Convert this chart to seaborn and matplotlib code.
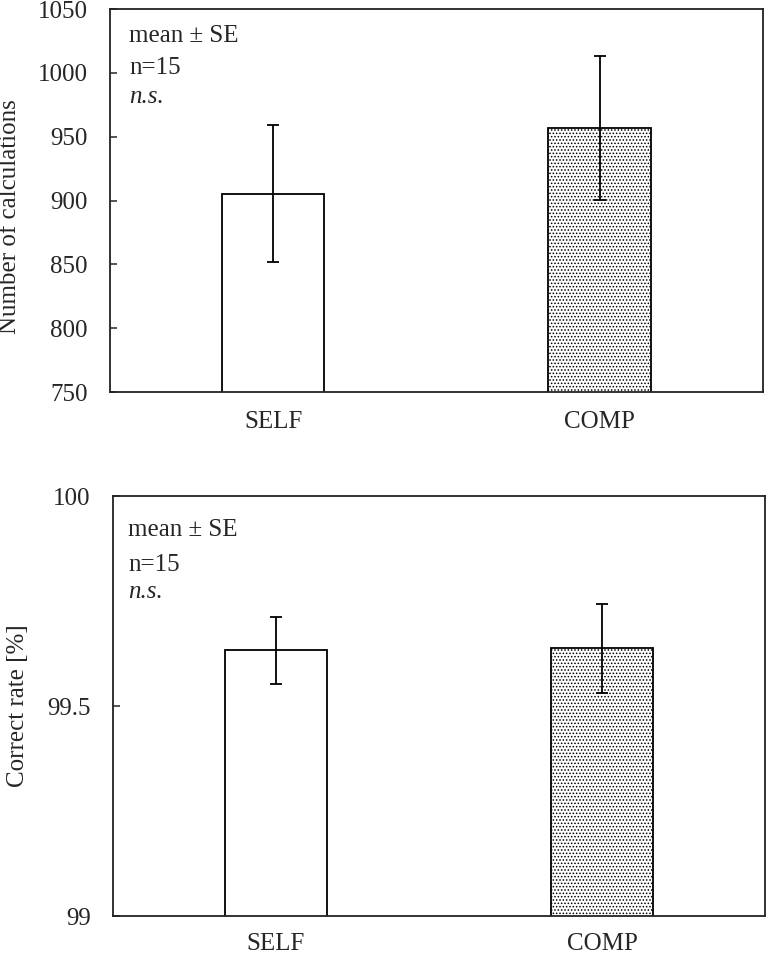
import matplotlib
matplotlib.use("Agg")
import matplotlib.pyplot as plt
import seaborn as sns
import pandas as pd
from matplotlib.ticker import FixedLocator, FixedFormatter

sns.set_theme(style="white")
plt.rcParams['font.family'] = ['Liberation Serif', 'DejaVu Serif']
plt.rcParams['hatch.linewidth'] = 0.7

categories = ["SELF", "COMP"]
calc_mean = [905.5, 957.0]
calc_se = [54.0, 56.6]
rate_mean = [99.633, 99.637]
rate_se = [0.080, 0.105]

calc_ticks = [750, 800, 850, 900, 950, 1000, 1050]
rate_ticks = [99, 99.5, 100]
rate_ticklabels = ["99", "99.5", "100"]

fig = plt.figure(figsize=(7.68, 9.55), dpi=100)
ax1 = fig.add_axes([0.1432, 0.5895, 0.850, 0.401])
ax2 = fig.add_axes([0.1471, 0.0408, 0.849, 0.4398])

def draw(ax, means, ses, ylim, ticks, ticklabels, ylabel, xpad, label_xy):
    df = pd.DataFrame({"cond": categories, "val": means})
    sns.barplot(data=df, x="cond", y="val", ax=ax, color="white",
                edgecolor="black", linewidth=1.3, width=0.313,
                errorbar=None, saturation=1)
    for i, p in enumerate(ax.patches):
        p.set_facecolor("white")
        if i == 1:
            p.set_hatch(".....")
    ax.errorbar(range(len(categories)), means, yerr=ses, fmt="none",
                ecolor="black", elinewidth=1.3, capsize=4, capthick=1.3)
    ax.set_xlim(-0.5, 1.5)
    ax.set_ylim(*ylim)
    ax.yaxis.set_major_locator(FixedLocator(ticks))
    ax.yaxis.set_major_formatter(FixedFormatter(ticklabels))
    ax.tick_params(axis="y", direction="in", length=5, width=1.1,
                   labelsize=18, pad=16, left=True)
    ax.tick_params(axis="x", length=0, labelsize=18, pad=xpad)
    ax.set_xlabel("")
    ax.set_ylabel(ylabel, fontsize=18)
    ax.yaxis.set_label_coords(*label_xy)
    for s in ax.spines.values():
        s.set_color("#222222")
        s.set_linewidth(1.3)
    ax.set_facecolor("white")

draw(ax1, calc_mean, calc_se, (750, 1050), calc_ticks,
     [str(t) for t in calc_ticks], "Number of calculations", 14,
     ((21 - 110) / 653, 0.457))
draw(ax2, rate_mean, rate_se, (99, 100), rate_ticks, rate_ticklabels,
     "Correct rate [%]", 12, ((29 - 113) / 652, 0.5))

for ax, x, ys in ((ax1, 0.029, (0.9295, 0.846, 0.770)),
                  (ax2, 0.023, (0.919, 0.836, 0.771))):
    ax.text(x, ys[0], "mean ± SE", transform=ax.transAxes,
            fontsize=18, va="center", ha="left")
    ax.text(x, ys[1], "n=15", transform=ax.transAxes,
            fontsize=18, va="center", ha="left")
    ax.text(x, ys[2], "n.s.", transform=ax.transAxes,
            fontsize=18, va="center", ha="left", style="italic")

fig.savefig("out.png", dpi=100, facecolor="white")
